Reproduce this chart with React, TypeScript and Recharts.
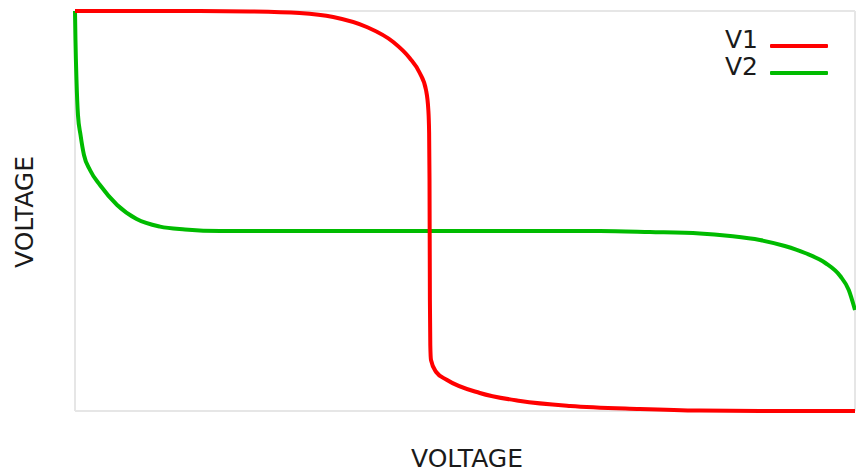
import React from "react";
import { LineChart, Line, XAxis, YAxis, CartesianGrid } from "recharts";

// V1 curve (x, y in percent of the plot range)
const v1X = [0, 16.0, 22.4, 28.8, 33.1, 37.4, 40.8, 42.9, 44.2, 45.0, 45.3, 45.4, 45.45, 45.5, 45.55, 45.64, 46.3, 47.7, 51.9, 57.1, 63.5, 72.4, 80.1, 87.8, 100];
const v1Y = [100, 100, 99.9, 99.5, 98.5, 96, 92.25, 88.25, 84.5, 80.25, 75.25, 69.5, 57.75, 27.75, 16.5, 12.75, 9.75, 7.75, 4.5, 2.5, 1.25, 0.5, 0.1, 0, 0];

// V2 curve
const v2X = [0, 0.06, 0.19, 0.38, 0.71, 1.15, 1.92, 3.2, 5.4, 7.9, 10.9, 14.1, 18.6, 40, 67.3, 73.7, 80.1, 84, 87.8, 91, 93.6, 96.2, 98.1, 99.2, 100];
const v2Y = [100, 92.75, 82.75, 74, 69, 64, 60.25, 56.5, 51.5, 48, 46.1, 45.4, 45, 45, 45, 44.75, 44.4, 43.75, 42.75, 41.25, 39.5, 37, 33.75, 30.25, 25.25];

const seriesNames = ["V1", "V2"];
const seriesColors = ["#ff0000", "#00bb00"];

const v1Data = v1X.map((x, i) => ({ x, y: v1Y[i] }));
const v2Data = v2X.map((x, i) => ({ x, y: v2Y[i] }));

const FONT = "'DejaVu Sans', Verdana, sans-serif";
const AXIS_GRAY = "#e6e6e6";

const XLabel = ({ viewBox }: any) => {
  const cx = viewBox.x + viewBox.width / 2 + 2;
  const cy = viewBox.y + 56;
  return (
    <text x={cx} y={cy} textAnchor="middle" fill="#1a1a1a" fontSize={25} fontFamily={FONT}>
      VOLTAGE
    </text>
  );
};

const YLabel = ({ viewBox }: any) => {
  const cx = 33;
  const cy = viewBox.y + viewBox.height / 2 + 1;
  return (
    <text
      x={cx}
      y={cy}
      transform={`rotate(-90, ${cx}, ${cy})`}
      textAnchor="middle"
      fill="#1a1a1a"
      fontSize={25}
      fontFamily={FONT}
    >
      VOLTAGE
    </text>
  );
};

export default function App() {
  return (
    <div style={{ position: "absolute", left: 0, top: 0, width: 856, height: 474, background: "#fff" }}>
      <LineChart width={856} height={474} margin={{ top: 11, right: 1, left: 0, bottom: 0 }}>
        <CartesianGrid stroke={AXIS_GRAY} strokeWidth={2} />
        <XAxis
          type="number"
          dataKey="x"
          domain={[0, 100]}
          ticks={[0]}
          height={63}
          tick={false}
          tickLine={false}
          axisLine={false}
          label={<XLabel />}
        />
        <YAxis
          type="number"
          domain={[0, 100]}
          ticks={[0, 100]}
          width={75}
          tick={false}
          tickLine={false}
          axisLine={false}
          label={<YLabel />}
        />
        <Line
          data={v2Data}
          dataKey="y"
          name={seriesNames[1]}
          type="monotone"
          stroke={seriesColors[1]}
          strokeWidth={4}
          dot={false}
          isAnimationActive={false}
        />
        <Line
          data={v1Data}
          dataKey="y"
          name={seriesNames[0]}
          type="monotone"
          stroke={seriesColors[0]}
          strokeWidth={4}
          dot={false}
          isAnimationActive={false}
        />
      </LineChart>
      <div
        style={{
          position: "absolute",
          left: 725,
          top: 26,
          fontFamily: FONT,
          fontSize: 25,
          color: "#1a1a1a",
        }}
      >
        {seriesNames.map((name, i) => (
          <div key={name} style={{ display: "flex", height: 27, lineHeight: "27px" }}>
            <span style={{ width: 45 }}>{name}</span>
            <span style={{ width: 58, height: 4, marginTop: 18, background: seriesColors[i], borderRadius: 1 }} />
          </div>
        ))}
      </div>
    </div>
  );
}
